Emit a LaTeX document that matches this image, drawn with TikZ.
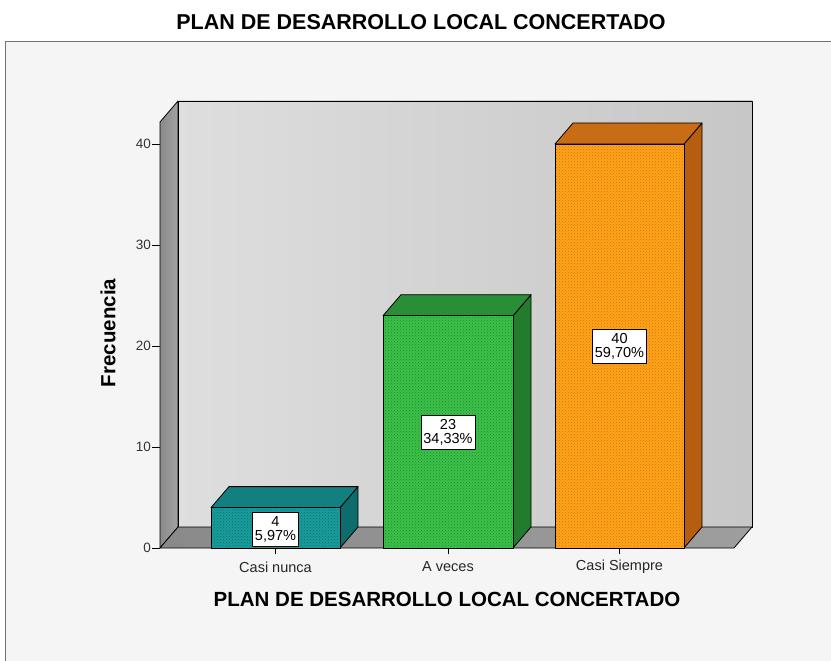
\documentclass[tikz,border=0pt]{standalone}
\usepackage{fontspec}
\setmainfont{Liberation Sans}
\usetikzlibrary{patterns}
\definecolor{tealF}{HTML}{1A9C9C}
\definecolor{tealD}{HTML}{0B6E6E}
\definecolor{tealT}{HTML}{138080}
\definecolor{tealS}{HTML}{0E6C6C}
\definecolor{greenF}{HTML}{3CC04A}
\definecolor{greenD}{HTML}{1F8A2C}
\definecolor{greenT}{HTML}{2A8E36}
\definecolor{greenS}{HTML}{237C2E}
\definecolor{orangeF}{HTML}{FFA41C}
\definecolor{orangeD}{HTML}{D47000}
\definecolor{orangeT}{HTML}{C86C16}
\definecolor{orangeS}{HTML}{B55E10}
\tikzset{
  edge/.style={draw=black, line width=0.8pt, line join=round},
  valbox/.style={draw=black, line width=0.6pt, fill=white, align=center, font=\fontsize{14.5}{14}\selectfont, inner xsep=2.5pt, inner ysep=4pt},
  ticklab/.style={font=\fontsize{13.5}{13}\selectfont, text=black!80},
  catlab/.style={font=\fontsize{14.5}{14}\selectfont, text=black!85},
  ttl/.style={font=\bfseries\fontsize{21.5}{22}\selectfont},
}
\begin{document}
\begin{tikzpicture}[x=1pt,y=-1pt]
\useasboundingbox (0,0) rectangle (831,661);
\fill[white] (0,0) rectangle (831,661);
% outer frame
\fill[black!4] (5,42) rectangle (831,661);
\draw[black!55, line width=1pt] (5,661) -- (5,42) -- (831,42);
% title
\node[ttl] (title) at (421,22) {PLAN DE DESARROLLO LOCAL CONCERTADO};
% back wall
\shade[left color=black!13, right color=black!22] (178,101) rectangle (752,527);
\draw[edge] (178,101) rectangle (752,527);
% left wall
\shade[left color=black!46, right color=black!36] (160,122) -- (178,101) -- (178,527) -- (160,548) -- cycle;
\draw[edge] (160,122) -- (178,101) -- (178,527) -- (160,548) -- cycle;
% floor
\shade[left color=black!46, right color=black!38] (160,548) -- (178,527) -- (752,527) -- (734,548) -- cycle;
\draw[edge] (160,548) -- (178,527) -- (752,527) -- (734,548) -- cycle;
% y ticks
\foreach \v/\yy in {0/548,10/447,20/346,30/245,40/144}{
  \draw[black, line width=0.8pt] (152,\yy) -- (160,\yy);
  \node[ticklab, anchor=east, inner sep=1pt] (yt\v) at (152,\yy) {\v};
}
% bars
\foreach \xa/\xb/\yt/\cf/\cd/\ct/\cs in {
  211/340/507.6/tealF/tealD/tealT/tealS,
  383/513/315.7/greenF/greenD/greenT/greenS,
  555/684/144/orangeF/orangeD/orangeT/orangeS}{
  % side
  \fill[\cs] (\xb,\yt) -- (\xb+18,\yt-21) -- (\xb+18,527) -- (\xb,548) -- cycle;
  \draw[edge] (\xb,\yt) -- (\xb+18,\yt-21) -- (\xb+18,527) -- (\xb,548) -- cycle;
  % top
  \fill[\ct] (\xa,\yt) -- (\xa+18,\yt-21) -- (\xb+18,\yt-21) -- (\xb,\yt) -- cycle;
  \draw[edge] (\xa,\yt) -- (\xa+18,\yt-21) -- (\xb+18,\yt-21) -- (\xb,\yt) -- cycle;
  % front
  \fill[\cf] (\xa,\yt) rectangle (\xb,548);
  \fill[pattern=crosshatch dots, pattern color=\cd] (\xa,\yt) rectangle (\xb,548);
  \draw[edge] (\xa,\yt) rectangle (\xb,548);
}
% value labels
\node[valbox] (v1) at (275.5,529) {4\\5,97\%};
\node[valbox] (v2) at (448,432) {23\\34,33\%};
\node[valbox] (v3) at (619.5,346) {40\\59,70\%};
% x ticks and category labels
\foreach \cx/\lab/\nm in {275.5/Casi nunca/c1, 448/A veces/c2, 619.5/Casi Siempre/c3}{
  \draw[black, line width=0.8pt] (\cx,548) -- (\cx,554);
  \node[catlab] (\nm) at (\cx,567) {\lab};
}
% axis titles
\node[ttl, font=\bfseries\fontsize{20.5}{20}\selectfont, rotate=90] (ytitle) at (108,333) {Frecuencia};
\node[ttl, font=\bfseries\fontsize{20.5}{20}\selectfont] (xtitle) at (447,599) {PLAN DE DESARROLLO LOCAL CONCERTADO};
\end{tikzpicture}
\end{document}
